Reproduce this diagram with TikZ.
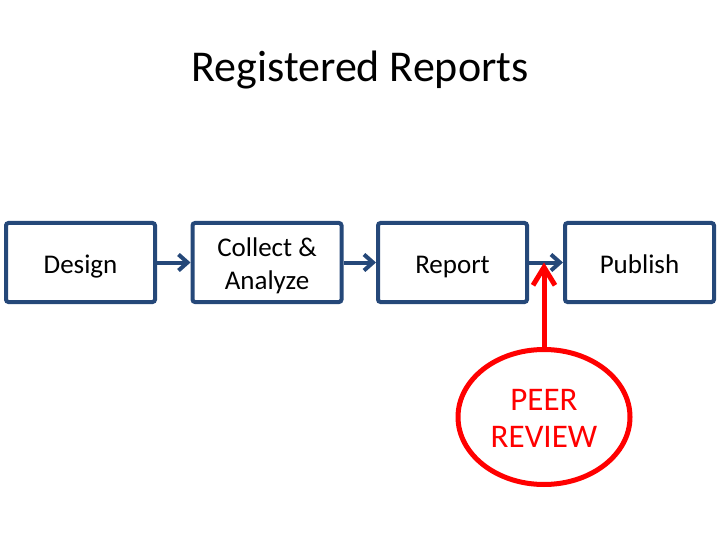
\documentclass[tikz,border=0pt]{standalone}
\usepackage{fontspec}
\setmainfont{Carlito}
\usetikzlibrary{arrows.meta,shapes.geometric}
\definecolor{boxblue}{RGB}{37,72,121}
\definecolor{revred}{RGB}{255,0,0}
\newcommand\boxstrut{\rule[-6pt]{0pt}{33pt}}
\newcommand\peerstrut{\rule[-7pt]{0pt}{37pt}}
\tikzset{
  stepbox/.style={draw=boxblue,line width=4pt,rounded corners=2.5pt,minimum width=149pt,minimum height=79pt,inner sep=0pt,align=center,font=\fontsize{27}{33}\selectfont},
  flow/.style={draw=boxblue,line width=4pt,-{Straight Barb[length=9pt,width=16pt,line width=4pt]}},
  peer/.style={draw=revred,ellipse,line width=5pt,minimum width=172pt,minimum height=135pt,inner sep=0pt,align=center,text=revred,font=\fontsize{33}{37}\selectfont},
  revarrow/.style={draw=revred,line width=5pt,-{Straight Barb[length=18pt,width=22pt,line width=5pt]}}
}
\begin{document}
\begin{tikzpicture}[x=1pt,y=-1pt]
\useasboundingbox (0,0) rectangle (720,540);
\node[font=\fontsize{44}{50}\selectfont,anchor=base] (title) at (360,82) {Registered Reports};
\node[stepbox] (d) at (80.5,262.5) {\boxstrut Design};
\node[stepbox] (c) at (267,262.5) {\boxstrut Collect \&\\\boxstrut Analyze};
\node[stepbox] (r) at (452.5,262.5) {\boxstrut Report};
\node[stepbox] (p) at (639.5,262.5) {\boxstrut Publish};
\node[peer] (pr) at (544,417) {\peerstrut PEER\\\peerstrut REVIEW};
\draw[flow] (d.east) -- (c.west);
\draw[flow] (c.east) -- (r.west);
\draw[flow] (r.east) -- (p.west);
\coordinate (m) at (544,262.5);
\draw[revarrow] (pr.north) -- (m);
\end{tikzpicture}
\end{document}
